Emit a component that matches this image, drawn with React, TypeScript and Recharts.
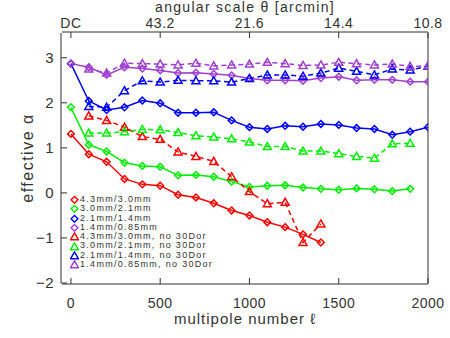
import React from 'react';
import { LineChart, Line, XAxis, YAxis, Legend, Label } from 'recharts';

const ell = [0, 100, 200, 300, 400, 500, 600, 700, 800, 900, 1000, 1100, 1200, 1300, 1400, 1500, 1600, 1700, 1800, 1900, 2000];

const red43 = [1.31, 0.86, 0.69, 0.31, 0.19, 0.16, -0.04, -0.10, -0.23, -0.39, -0.50, -0.65, -0.76, -0.92, -1.10, null, null, null, null, null, null];
const green30 = [1.90, 1.07, 0.92, 0.67, 0.60, 0.58, 0.39, 0.40, 0.36, 0.25, 0.13, 0.16, 0.17, 0.12, 0.09, 0.07, 0.10, 0.08, 0.04, 0.09, null];
const blue21 = [2.87, 2.04, 1.84, 1.90, 2.05, 1.99, 1.78, 1.78, 1.79, 1.61, 1.46, 1.42, 1.49, 1.47, 1.53, 1.51, 1.44, 1.42, 1.29, 1.36, 1.46];
const purple14 = [2.87, 2.79, 2.62, 2.79, 2.76, 2.72, 2.66, 2.67, 2.64, 2.61, 2.54, 2.50, 2.50, 2.49, 2.55, 2.58, 2.50, 2.51, 2.51, 2.47, 2.47];
const red43no = [null, 1.71, 1.61, 1.46, 1.25, 1.19, 0.91, 0.81, 0.70, 0.36, 0.03, -0.24, -0.21, -1.10, -0.69, null, null, null, null, null, null];
const green30no = [null, 1.33, 1.33, 1.36, 1.41, 1.40, 1.34, 1.27, 1.24, 1.20, 1.13, 1.03, 1.03, 0.93, 0.93, 0.87, 0.81, 0.77, 1.09, 1.10, null];
const blue21no = [null, 1.92, 1.90, 2.27, 2.49, 2.46, 2.50, 2.49, 2.49, 2.46, 2.54, 2.62, 2.62, 2.59, 2.66, 2.77, 2.70, 2.62, 2.75, 2.73, 2.81];
const purple14no = [null, 2.75, 2.66, 2.88, 2.87, 2.86, 2.84, 2.88, 2.82, 2.84, 2.86, 2.90, 2.87, 2.83, 2.84, 2.90, 2.87, 2.84, 2.86, 2.81, 2.82];

const seriesNames = [
  '4.3mm/3.0mm',
  '3.0mm/2.1mm',
  '2.1mm/1.4mm',
  '1.4mm/0.85mm',
  '4.3mm/3.0mm, no 30Dor',
  '3.0mm/2.1mm, no 30Dor',
  '2.1mm/1.4mm, no 30Dor',
  '1.4mm/0.85mm, no 30Dor',
];
const seriesValues = [red43, green30, blue21, purple14, red43no, green30no, blue21no, purple14no];
const seriesColors = ['#ff0000', '#00ee00', '#0000ff', '#a040d0', '#ff0000', '#00ee00', '#0000ff', '#a040d0'];
const seriesShapes = ['diamond', 'diamond', 'diamond', 'diamond', 'triangle', 'triangle', 'triangle', 'triangle'];

const xMajorTicks = [0, 500, 1000, 1500, 2000];
const topTickLabels = ['DC', '43.2', '21.6', '14.4', '10.8'];
const yMajorTicks = [-2, -1, 0, 1, 2, 3];

const xMinorTicks = Array.from({ length: 21 }, (_, i) => i * 100);
const yMinorTicks = Array.from({ length: 56 }, (_, i) => Math.round((-2 + i * 0.1) * 10) / 10);

const data = ell.map((l, i) => {
  const row: any = { ell: l };
  seriesValues.forEach((vals, k) => {
    row['s' + k] = vals[i];
  });
  return row;
});

const FONT = '"Liberation Sans", Arial, sans-serif';
const TXT = '#333';
const X_DOMAIN = [-50, 2000];
const Y_DOMAIN = [-2, 3.55];

function markerPath(shape: string, cx: number, cy: number) {
  if (shape === 'diamond') {
    const r = 3.4;
    return `M${cx},${cy - r}L${cx + r},${cy}L${cx},${cy + r}L${cx - r},${cy}Z`;
  }
  const r = 4;
  return `M${cx},${cy - r}L${cx + r},${cy + 3}L${cx - r},${cy + 3}Z`;
}

const makeDot = (shape: string, color: string) => (props: any) => {
  const { cx, cy, value, index } = props;
  if (cx == null || cy == null || value == null) return <g key={'e' + index} />;
  return <path key={'d' + index} d={markerPath(shape, cx, cy)} fill="none" stroke={color} strokeWidth={1.5} />;
};

const LegendContent = () => (
  <div style={{ fontFamily: FONT, fontSize: 9, letterSpacing: '1.3px', color: TXT, lineHeight: '9.3px' }}>
    {seriesNames.map((n, i) => (
      <div key={n} style={{ display: 'flex', alignItems: 'center', height: 9.3, whiteSpace: 'nowrap' }}>
        <svg width={9} height={9} style={{ marginRight: 1 }}>
          <path d={markerPath(seriesShapes[i], 4.5, 4.8)} fill="none" stroke={seriesColors[i]} strokeWidth={1.4} />
        </svg>
        <span>{n}</span>
      </div>
    ))}
  </div>
);

const fmtY = (v: number) => String(v).replace('-', '\u2212');
const fmtTop = (v: number) => {
  const i = xMajorTicks.indexOf(Number(v));
  return i >= 0 ? topTickLabels[i] : '';
};

const tickStyle = { fill: TXT, fontSize: 14, fontFamily: FONT, letterSpacing: '0.5px' };

export default function App() {
  return (
    <div style={{ position: 'absolute', left: 0, top: 0, background: '#fff' }}>
      <LineChart width={450} height={338} data={data} margin={{ top: 31, right: 20, bottom: 53, left: 60 }}>
        {/* bottom axis with labels and major ticks */}
        <XAxis
          xAxisId="main" dataKey="ell" type="number" domain={X_DOMAIN} allowDataOverflow
          ticks={xMajorTicks} height={1} tickSize={-6} tickMargin={20}
          stroke="#333" tick={tickStyle} interval={0}
        >
          <Label value="multipole number ℓ" position="bottom" offset={28} style={{ fill: TXT, fontSize: 15, fontFamily: FONT, letterSpacing: '1px' }} />
        </XAxis>
        <XAxis xAxisId="bminor" dataKey="ell" type="number" domain={X_DOMAIN} allowDataOverflow ticks={xMinorTicks} height={1}
          tickSize={-4} tick={false} axisLine={false} stroke="#333" interval={0} />
        {/* top axis */}
        <XAxis
          xAxisId="top" dataKey="ell" orientation="top" type="number" domain={X_DOMAIN} allowDataOverflow
          ticks={xMajorTicks} height={1} tickSize={-6} tickMargin={10} tickFormatter={fmtTop}
          stroke="#333" tick={tickStyle} interval={0}
        >
          <Label value="angular scale θ [arcmin]" position="top" offset={19} style={{ fill: TXT, fontSize: 14, fontFamily: FONT, letterSpacing: '1.3px' }} />
        </XAxis>
        <XAxis xAxisId="tminor" dataKey="ell" orientation="top" type="number" domain={X_DOMAIN} allowDataOverflow ticks={xMinorTicks} height={1}
          tickSize={-4} tick={false} axisLine={false} stroke="#333" interval={0} />
        {/* left axis */}
        <YAxis
          yAxisId="main" type="number" domain={Y_DOMAIN} allowDataOverflow ticks={yMajorTicks} width={1}
          tickSize={-6} tickMargin={13} tickFormatter={fmtY} stroke="#333"
          tick={{ ...tickStyle, fontSize: 15 }} interval={0}
        >
          <Label value="effective α" angle={-90} position="left" offset={33} style={{ fill: TXT, fontSize: 16, fontFamily: FONT, textAnchor: 'middle', letterSpacing: '1.5px' }} />
        </YAxis>
        <YAxis yAxisId="lminor" type="number" domain={Y_DOMAIN} allowDataOverflow ticks={yMinorTicks} width={1}
          tickSize={-4} tick={false} axisLine={false} stroke="#333" interval={0} />
        {/* right axis */}
        <YAxis yAxisId="right" orientation="right" type="number" domain={Y_DOMAIN} allowDataOverflow ticks={yMajorTicks} width={1}
          tickSize={-6} tick={false} stroke="#333" interval={0} />
        <YAxis yAxisId="rminor" orientation="right" type="number" domain={Y_DOMAIN} allowDataOverflow ticks={yMinorTicks} width={1}
          tickSize={-4} tick={false} axisLine={false} stroke="#333" interval={0} />

        {/* invisible helpers so the auxiliary x axes share the data domain */}
        <Line xAxisId="top" yAxisId="main" dataKey="s3" stroke="none" dot={false} activeDot={false} legendType="none" isAnimationActive={false} />
        <Line xAxisId="tminor" yAxisId="main" dataKey="s3" stroke="none" dot={false} activeDot={false} legendType="none" isAnimationActive={false} />
        <Line xAxisId="bminor" yAxisId="main" dataKey="s3" stroke="none" dot={false} activeDot={false} legendType="none" isAnimationActive={false} />

        {seriesNames.map((n, k) => (
          <Line
            key={n}
            xAxisId="main"
            yAxisId="main"
            dataKey={'s' + k}
            name={n}
            stroke={seriesColors[k]}
            strokeWidth={1.5}
            strokeDasharray={seriesShapes[k] === 'triangle' ? '5 3.5' : undefined}
            dot={makeDot(seriesShapes[k], seriesColors[k])}
            activeDot={false}
            isAnimationActive={false}
          />
        ))}
        <Legend
          layout="vertical" align="center" verticalAlign="middle"
          content={LegendContent}
          wrapperStyle={{ position: 'absolute', left: 70, top: 195, width: 'auto', height: 'auto' }}
        />
      </LineChart>
    </div>
  );
}
